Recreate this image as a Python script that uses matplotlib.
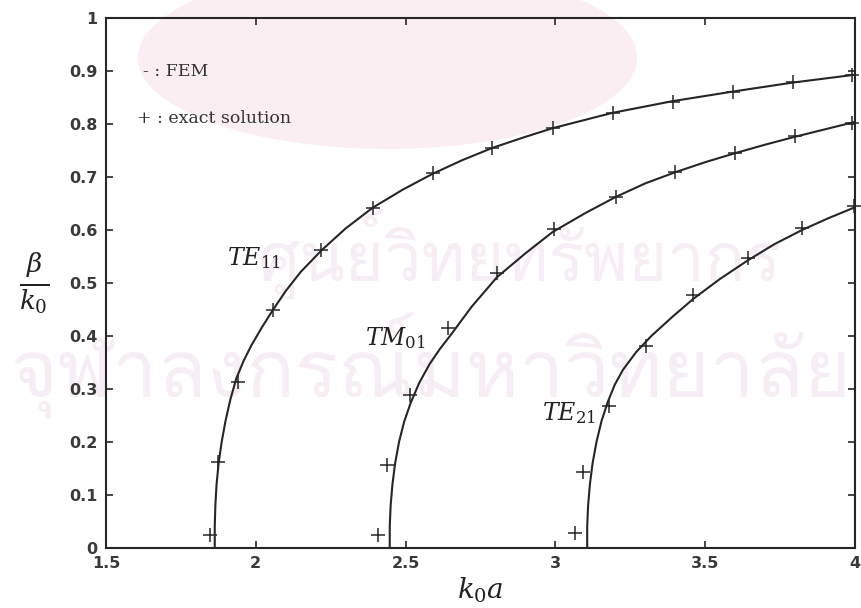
"""Dispersion curves of a circular waveguide: FEM vs exact solution."""

import matplotlib
import numpy as np

matplotlib.use("Agg")
import matplotlib.pyplot as plt
from matplotlib import font_manager
from matplotlib.ft2font import FT2Font
from matplotlib.patches import Ellipse

plt.rcParams["mathtext.fontset"] = "dejavuserif"

# exact solution markers (k0a, beta/k0)
te11_exact_x = [1.847, 1.874, 1.941, 2.057, 2.218, 2.391, 2.591, 2.788, 2.992, 3.192, 3.393, 3.593, 3.793, 3.990]
te11_exact_y = [0.025, 0.162, 0.313, 0.449, 0.562, 0.642, 0.708, 0.755, 0.792, 0.821, 0.842, 0.860, 0.879, 0.892]
tm01_exact_x = [2.407, 2.437, 2.513, 2.641, 2.805, 2.995, 3.202, 3.399, 3.599, 3.799, 3.990]
tm01_exact_y = [0.025, 0.157, 0.289, 0.415, 0.519, 0.602, 0.662, 0.709, 0.745, 0.777, 0.802]
te21_exact_x = [3.065, 3.092, 3.179, 3.302, 3.459, 3.643, 3.823, 3.995]
te21_exact_y = [0.028, 0.143, 0.268, 0.381, 0.477, 0.547, 0.604, 0.645]

# FEM curves
te11_fem_x = [1.863, 1.863, 1.865, 1.869, 1.876, 1.886, 1.899, 1.915, 1.935, 1.960, 1.985, 2.020,
              2.057, 2.100, 2.150, 2.220, 2.300, 2.390, 2.490, 2.590, 2.690, 2.790, 2.890, 2.990,
              3.190, 3.390, 3.590, 3.790, 4.000]
te11_fem_y = [0.000, 0.040, 0.080, 0.120, 0.160, 0.200, 0.240, 0.280, 0.320, 0.354, 0.382, 0.416,
              0.449, 0.485, 0.521, 0.562, 0.603, 0.642, 0.676, 0.706, 0.732, 0.755, 0.774, 0.792,
              0.821, 0.843, 0.861, 0.878, 0.893]
tm01_fem_x = [2.447, 2.447, 2.450, 2.456, 2.465, 2.478, 2.495, 2.517, 2.545, 2.580, 2.615, 2.648,
              2.720, 2.805, 2.900, 2.990, 3.100, 3.200, 3.300, 3.400, 3.500, 3.600, 3.700, 3.800,
              3.900, 4.000]
tm01_fem_y = [0.000, 0.040, 0.080, 0.120, 0.160, 0.200, 0.238, 0.274, 0.311, 0.347, 0.376, 0.400,
              0.455, 0.511, 0.556, 0.596, 0.632, 0.662, 0.688, 0.709, 0.728, 0.745, 0.761, 0.776,
              0.790, 0.804]
te21_fem_x = [3.106, 3.106, 3.109, 3.115, 3.124, 3.137, 3.154, 3.175, 3.198, 3.225, 3.270, 3.320,
              3.390, 3.460, 3.550, 3.643, 3.730, 3.823, 3.910, 4.000]
te21_fem_y = [0.000, 0.040, 0.080, 0.120, 0.160, 0.200, 0.240, 0.276, 0.308, 0.336, 0.370, 0.400,
              0.436, 0.470, 0.508, 0.543, 0.573, 0.600, 0.622, 0.643]

x_ticks = [1.5, 2, 2.5, 3, 3.5, 4]
x_tick_labels = ["1.5", "2", "2.5", "3", "3.5", "4"]
y_ticks = [0, 0.1, 0.2, 0.3, 0.4, 0.5, 0.6, 0.7, 0.8, 0.9, 1]
y_tick_labels = ["0", "0.1", "0.2", "0.3", "0.4", "0.5", "0.6", "0.7", "0.8", "0.9", "1"]

watermark_lines = ["ศูนย์วิทยทรัพยากร", "จุฬาลงกรณ์มหาวิทยาลัย"]

# first installed font that can draw Thai, for the scanned watermark
thai_font = None
for entry in font_manager.fontManager.ttflist:
    try:
        if 0x0E28 in FT2Font(entry.fname).get_charmap():
            thai_font = entry.name
            break
    except Exception:
        pass

ink = "#262626"
serif = "DejaVu Serif"

figure = plt.figure(figsize=(8.61, 6.08), dpi=100)
axis = figure.add_axes([0.1231, 0.0987, 0.870, 0.8717])
axis.set_zorder(2)
axis.set_facecolor("none")

# faint scanned background emblem and watermark
figure.patches.append(Ellipse((0.45, 0.905), 0.58, 0.30, transform=figure.transFigure,
                              facecolor="#fbeef3", edgecolor="none", zorder=0))
if thai_font:
    figure.text(0.604, 0.582, watermark_lines[0], family=thai_font, fontsize=48,
                color="#f7edf4", ha="center", va="center", zorder=0)
    figure.text(0.500, 0.400, watermark_lines[1], family=thai_font, fontsize=58,
                color="#f7edf4", ha="center", va="center", zorder=0)

for fem_x, fem_y, exact_x, exact_y in (
        (te11_fem_x, te11_fem_y, te11_exact_x, te11_exact_y),
        (tm01_fem_x, tm01_fem_y, tm01_exact_x, tm01_exact_y),
        (te21_fem_x, te21_fem_y, te21_exact_x, te21_exact_y),
):
    axis.plot(fem_x, fem_y, color=ink, linewidth=1.5, zorder=3)
    axis.plot(exact_x, exact_y, linestyle="none", marker="+", markersize=10,
              markeredgewidth=1.1, color=ink, zorder=4, clip_on=False)

axis.set_xlim(1.5, 4)
axis.set_ylim(0, 1)
axis.set_xticks(x_ticks, x_tick_labels)
axis.set_yticks(y_ticks, y_tick_labels)
axis.tick_params(direction="in", length=5, width=1.2, color=ink, top=True, right=True,
                 labelsize=11.5, labelcolor="#3a3a3a", pad=6)
for label in axis.get_xticklabels() + axis.get_yticklabels():
    label.set_fontweight("bold")
for spine in axis.spines.values():
    spine.set_linewidth(1.5)
    spine.set_color(ink)

axis.text(1.903, 0.547, r"$TE_{11}$", fontsize=17, color="#222222", va="center")
axis.text(2.364, 0.396, r"$TM_{01}$", fontsize=17, color="#222222", va="center")
axis.text(2.955, 0.255, r"$TE_{21}$", fontsize=17, color="#222222", va="center")

axis.text(1.623, 0.899, "- : FEM", family=serif, fontsize=12.5, color="#333333", va="center")
axis.text(1.603, 0.811, "+ : exact solution", family=serif, fontsize=12.5, color="#333333", va="center")

figure.text(0.558, 0.03, r"$k_0 a$", fontsize=20, color="#222222", ha="center", va="center")
figure.text(0.040, 0.535, r"$\frac{\beta}{k_0}$", fontsize=27, color="#222222", ha="center", va="center")

figure.savefig("out.png", dpi=100)
